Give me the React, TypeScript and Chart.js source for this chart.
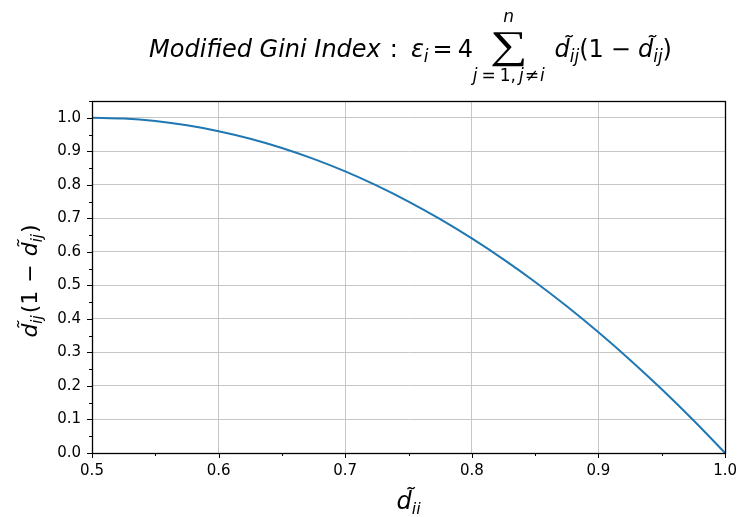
import React, { useEffect, useRef } from 'react';
import { Chart, registerables } from 'chart.js';

Chart.register(...registerables);

// ---- data ----
const dValues = [0.5, 0.525, 0.55, 0.575, 0.6, 0.625, 0.65, 0.675, 0.7, 0.725, 0.75, 0.775, 0.8, 0.825, 0.85, 0.875, 0.9, 0.925, 0.95, 0.975, 1.0];
const giniValues = [1.0, 0.9975, 0.99, 0.9775, 0.96, 0.9375, 0.91, 0.8775, 0.84, 0.7975, 0.75, 0.6975, 0.64, 0.5775, 0.51, 0.4375, 0.36, 0.2775, 0.19, 0.0975, 0.0];
const xMajorTicks = [0.5, 0.6, 0.7, 0.8, 0.9, 1.0];
const yMajorTicks = [0.0, 0.1, 0.2, 0.3, 0.4, 0.5, 0.6, 0.7, 0.8, 0.9, 1.0];

const FAM = "'DejaVu Sans'";
const LINE_COLOR = '#1f77b4';
const GRID_COLOR = '#c6c6c6';

const isMajor = (v: number, majors: number[]) => majors.some((m) => Math.abs(m - v) < 1e-6);

type Run = { t: string; f: string; dy?: number; gap?: number; sum?: boolean };

const fIt = (s: number) => `italic ${s}px ${FAM}`;
const fUp = (s: number) => `${s}px ${FAM}`;

const SUM_FONT = `200 39px ${FAM}`;
const SUM_SX = 1.35;

function runWidth(ctx: CanvasRenderingContext2D, r: Run) {
  if (r.sum) {
    ctx.font = SUM_FONT;
    return ctx.measureText('\u2211').width * SUM_SX;
  }
  ctx.font = r.f;
  return ctx.measureText(r.t).width;
}

function runsWidth(ctx: CanvasRenderingContext2D, runs: Run[]) {
  let w = 0;
  for (const r of runs) w += (r.gap || 0) + runWidth(ctx, r);
  return w;
}

const sumBelow: Run[] = [
  { t: 'j', f: fIt(17) },
  { t: '=', f: fUp(17), gap: 4 },
  { t: '1,', f: fUp(17), gap: 4 },
  { t: 'j', f: fIt(17), gap: 3 },
  { t: '\u2260', f: fUp(17), gap: 1 },
  { t: 'i', f: fIt(17), gap: 1 },
];

function drawRuns(ctx: CanvasRenderingContext2D, runs: Run[], x: number, y: number) {
  let cx = x;
  for (const r of runs) {
    cx += r.gap || 0;
    const w = runWidth(ctx, r);
    if (r.sum) {
      ctx.save();
      ctx.font = SUM_FONT;
      ctx.translate(cx, y + 1);
      ctx.scale(SUM_SX, 1);
      ctx.fillText('\u2211', 0, 0);
      ctx.restore();
      const mid = cx + w / 2;
      ctx.font = fIt(17);
      const nw = ctx.measureText('n').width;
      ctx.fillText('n', mid - nw / 2, y - 35);
      const bw = runsWidth(ctx, sumBelow);
      drawRuns(ctx, sumBelow, mid - bw / 2, y + 24);
    } else {
      ctx.font = r.f;
      ctx.fillText(r.t, cx, y + (r.dy || 0));
    }
    cx += w;
  }
}

const titleRuns: Run[] = [
  { t: 'Modified Gini Index', f: fIt(24) },
  { t: ':', f: fUp(24), gap: 9 },
  { t: '\u03b5', f: fIt(24), gap: 13 },
  { t: 'i', f: fIt(17), dy: 5 },
  { t: '=', f: fUp(24), gap: 4 },
  { t: '4', f: fUp(24), gap: 5 },
  { t: '', f: '', sum: true, gap: 17 },
  { t: 'd\u0303', f: fIt(24), gap: 27 },
  { t: 'ij', f: fIt(17), dy: 5 },
  { t: '(1', f: fUp(24) },
  { t: '\u2212', f: fUp(24), gap: 7 },
  { t: 'd\u0303', f: fIt(24), gap: 7 },
  { t: 'ij', f: fIt(17), dy: 5 },
  { t: ')', f: fUp(24) },
];

const yLabelRuns: Run[] = [
  { t: 'd\u0303', f: fIt(22) },
  { t: 'ij', f: fIt(15), dy: 5 },
  { t: '(1', f: fUp(22), gap: 2 },
  { t: '\u2212', f: fUp(22), gap: 8 },
  { t: 'd\u0303', f: fIt(22), gap: 8 },
  { t: 'ij', f: fIt(15), dy: 5 },
  { t: ')', f: fUp(22), gap: 1 },
];

const xLabelRuns: Run[] = [
  { t: 'd\u0303', f: fIt(24) },
  { t: 'ii', f: fIt(16), dy: 5 },
];

const decorPlugin = {
  id: 'decor',
  afterDraw(chart: any) {
    const ctx: CanvasRenderingContext2D = chart.ctx;
    const a = chart.chartArea;
    const xs = chart.scales.x;
    const ys = chart.scales.y;
    ctx.save();
    ctx.strokeStyle = '#000';
    ctx.lineWidth = 1;
    // tick marks (major and minor)
    for (const t of xs.ticks) {
      const px = Math.round(xs.getPixelForValue(t.value)) + 0.5;
      const len = isMajor(t.value, xMajorTicks) ? 5 : 3;
      ctx.beginPath();
      ctx.moveTo(px, a.bottom);
      ctx.lineTo(px, a.bottom + len);
      ctx.stroke();
    }
    for (const t of ys.ticks) {
      const py = Math.round(ys.getPixelForValue(t.value)) + 0.5;
      const len = isMajor(t.value, yMajorTicks) ? 5 : 3;
      ctx.beginPath();
      ctx.moveTo(a.left, py);
      ctx.lineTo(a.left - len, py);
      ctx.stroke();
    }
    // frame
    ctx.lineWidth = 1.3;
    ctx.strokeRect(Math.round(a.left) + 0.5, Math.round(a.top) + 0.5, Math.round(a.right - a.left), Math.round(a.bottom - a.top));

    ctx.fillStyle = '#000';
    ctx.textBaseline = 'alphabetic';
    const midX = (a.left + a.right) / 2;
    const midY = (a.top + a.bottom) / 2;
    // title
    const tw = runsWidth(ctx, titleRuns);
    drawRuns(ctx, titleRuns, midX - tw / 2 + 2, 57);
    // x label
    const xw = runsWidth(ctx, xLabelRuns);
    drawRuns(ctx, xLabelRuns, midX - xw / 2, 509);
    // y label
    ctx.save();
    ctx.translate(37, midY + 4);
    ctx.rotate(-Math.PI / 2);
    const yw = runsWidth(ctx, yLabelRuns);
    drawRuns(ctx, yLabelRuns, -yw / 2, 0);
    ctx.restore();
    ctx.restore();
  },
};

export default function App() {
  const ref = useRef<HTMLCanvasElement | null>(null);
  useEffect(() => {
    if (!ref.current) return;
    const chart = new Chart(ref.current, {
      type: 'line',
      data: {
        datasets: [
          {
            data: dValues.map((x, i) => ({ x, y: giniValues[i] })),
            borderColor: LINE_COLOR,
            borderWidth: 2,
            pointRadius: 0,
            fill: false,
            cubicInterpolationMode: 'monotone',
          },
        ],
      },
      options: {
        responsive: false,
        animation: false,
        events: [],
        layout: { padding: { left: 0, right: 14, top: 101, bottom: 0 } },
        plugins: { legend: { display: false }, tooltip: { enabled: false }, title: { display: false } },
        scales: {
          x: {
            type: 'linear',
            min: 0.5,
            max: 1.0,
            border: { display: false },
            grid: {
              color: (c: any) => (c.tick && isMajor(c.tick.value, xMajorTicks) ? GRID_COLOR : 'rgba(0,0,0,0)'),
              lineWidth: 1,
              drawTicks: true,
              tickLength: 5,
              tickColor: 'rgba(0,0,0,0)',
            },
            ticks: {
              stepSize: 0.05,
              autoSkip: false,
              maxRotation: 0,
              padding: 4,
              color: '#000',
              font: { family: 'DejaVu Sans', size: 15 },
              callback: (v: any) => (isMajor(Number(v), xMajorTicks) ? Number(v).toFixed(1) : ''),
            },
            afterFit: (s: any) => {
              s.height = 64;
            },
          },
          y: {
            type: 'linear',
            min: 0,
            max: 1.05,
            border: { display: false },
            grid: {
              color: (c: any) => (c.tick && isMajor(c.tick.value, yMajorTicks) ? GRID_COLOR : 'rgba(0,0,0,0)'),
              lineWidth: 1,
              drawTicks: true,
              tickLength: 5,
              tickColor: 'rgba(0,0,0,0)',
            },
            ticks: {
              stepSize: 0.05,
              autoSkip: false,
              padding: 6,
              color: '#000',
              font: { family: 'DejaVu Sans', size: 15 },
              callback: (v: any) => (isMajor(Number(v), yMajorTicks) ? Number(v).toFixed(1) : ''),
            },
            afterFit: (s: any) => {
              s.width = 92;
            },
          },
        },
      },
      plugins: [decorPlugin],
    });
    return () => chart.destroy();
  }, []);
  return (
    <div style={{ position: 'absolute', left: 0, top: 0, width: 741, height: 517, background: '#fff' }}>
      <canvas ref={ref} width={741} height={517} style={{ display: 'block' }} />
    </div>
  );
}
